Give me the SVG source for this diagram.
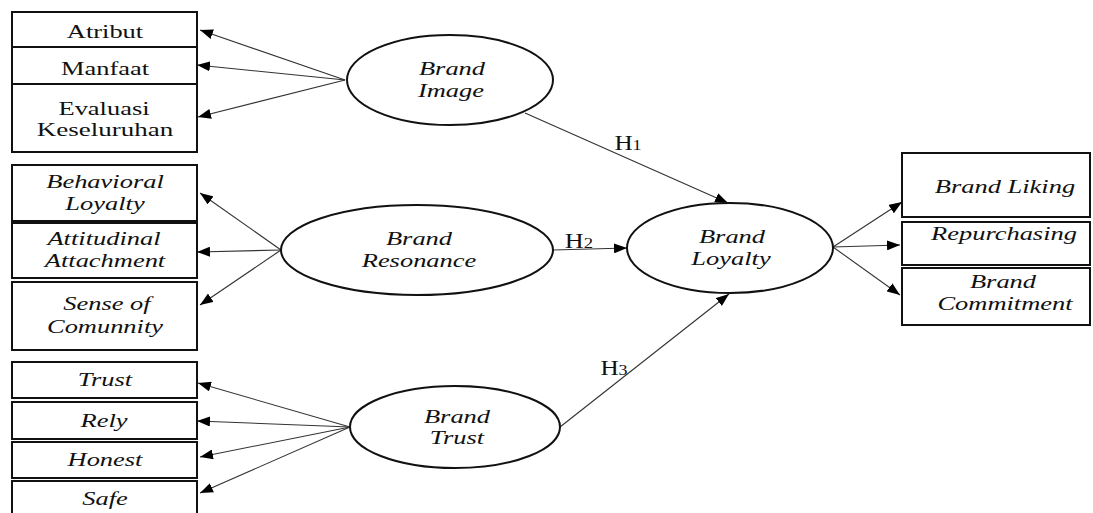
<svg xmlns="http://www.w3.org/2000/svg" width="1093" height="513" viewBox="0 0 1093 513">
<defs>
<marker id="ah" markerWidth="14" markerHeight="10" refX="13" refY="5" orient="auto" markerUnits="userSpaceOnUse">
<path d="M0,0 L13,5 L0,10 Z" fill="#000"/>
</marker>
<style>
.box{fill:#fff;stroke:#111;stroke-width:2}
.ell{fill:#fff;stroke:#111;stroke-width:2}
.t{font-family:"Liberation Serif","Times New Roman",serif;font-size:18px;fill:#111;text-anchor:middle}
.h{font-family:"Liberation Serif","Times New Roman",serif;font-size:21px;fill:#111;text-anchor:middle}
.i{font-style:italic}
.c line{stroke:#333;stroke-width:1.1;marker-end:url(#ah)}
</style>
</defs>
<rect width="1093" height="513" fill="#fff"/>

<g id="connectors" class="c">
<line x1="345" y1="80" x2="200" y2="30"/>
<line x1="345" y1="80" x2="197" y2="65"/>
<line x1="345" y1="80" x2="198" y2="117"/>
<line x1="281" y1="250" x2="200" y2="193"/>
<line x1="281" y1="250" x2="197" y2="252"/>
<line x1="281" y1="250" x2="200" y2="305"/>
<line x1="350" y1="427" x2="198" y2="383"/>
<line x1="350" y1="427" x2="197" y2="421"/>
<line x1="350" y1="427" x2="200" y2="457"/>
<line x1="350" y1="427" x2="200" y2="493"/>
<line x1="525" y1="113" x2="728" y2="203"/>
<line x1="553" y1="250" x2="627" y2="248"/>
<line x1="560" y1="427" x2="729" y2="294"/>
<line x1="833" y1="247" x2="902" y2="202"/>
<line x1="833" y1="247" x2="900" y2="245"/>
<line x1="833" y1="247" x2="900" y2="295"/>
<text class="h" transform="matrix(1.2 0 0 1 628 150)">H<tspan font-size="15">1</tspan></text>
<text class="h" transform="matrix(1.25 0 0 1 579 248)">H<tspan font-size="15">2</tspan></text>
<text class="h" transform="matrix(1.2 0 0 1 614 375)">H<tspan font-size="15">3</tspan></text>
</g>

<g id="atribut"><rect class="box" x="12" y="12" width="185" height="35"/><text class="t" transform="matrix(1.47 0 0 1 105 38)">Atribut</text></g>
<g id="manfaat"><rect class="box" x="12" y="47" width="185" height="37"/><text class="t" transform="matrix(1.47 0 0 1 105 75)">Manfaat</text></g>
<g id="evaluasi"><rect class="box" x="12" y="84" width="185" height="68"/><text class="t" transform="matrix(1.47 0 0 1 104 115)">Evaluasi</text><text class="t" transform="matrix(1.5 0 0 1 105 136)">Keseluruhan</text></g>

<g id="behavioral"><rect class="box" x="12" y="165" width="185" height="56"/><text class="t i" transform="matrix(1.47 0 0 1 105 188)">Behavioral</text><text class="t i" transform="matrix(1.47 0 0 1 105 210)">Loyalty</text></g>
<g id="attitudinal"><rect class="box" x="12" y="223" width="185" height="55"/><text class="t i" transform="matrix(1.47 0 0 1 104 245)">Attitudinal</text><text class="t i" transform="matrix(1.47 0 0 1 105 267)">Attachment</text></g>
<g id="sense"><rect class="box" x="12" y="282" width="185" height="68"/><text class="t i" transform="matrix(1.47 0 0 1 107 310)">Sense of</text><text class="t i" transform="matrix(1.47 0 0 1 105 333)">Comunnity</text></g>

<g id="trust"><rect class="box" x="12" y="362" width="185" height="36"/><text class="t i" transform="matrix(1.47 0 0 1 105 386)">Trust</text></g>
<g id="rely"><rect class="box" x="12" y="402" width="185" height="37"/><text class="t i" transform="matrix(1.47 0 0 1 104 427)">Rely</text></g>
<g id="honest"><rect class="box" x="12" y="442" width="185" height="36"/><text class="t i" transform="matrix(1.47 0 0 1 105 466)">Honest</text></g>
<g id="safe"><rect class="box" x="12" y="481" width="185" height="40"/><text class="t i" transform="matrix(1.47 0 0 1 105 505)">Safe</text></g>

<g id="brand-image"><ellipse class="ell" cx="450" cy="80" rx="103" ry="45"/><text class="t i" transform="matrix(1.47 0 0 1 452 75)">Brand</text><text class="t i" transform="matrix(1.47 0 0 1 451 97)">Image</text></g>
<g id="brand-resonance"><ellipse class="ell" cx="417" cy="250" rx="136" ry="45"/><text class="t i" transform="matrix(1.47 0 0 1 419 245)">Brand</text><text class="t i" transform="matrix(1.47 0 0 1 419 267)">Resonance</text></g>
<g id="brand-trust"><ellipse class="ell" cx="455" cy="427" rx="105" ry="41"/><text class="t i" transform="matrix(1.47 0 0 1 457 423)">Brand</text><text class="t i" transform="matrix(1.47 0 0 1 457 444)">Trust</text></g>
<g id="brand-loyalty"><ellipse class="ell" cx="730" cy="248" rx="103" ry="45"/><text class="t i" transform="matrix(1.47 0 0 1 732 243)">Brand</text><text class="t i" transform="matrix(1.47 0 0 1 731 265)">Loyalty</text></g>

<g id="brand-liking"><rect class="box" x="902" y="153" width="188" height="64"/><text class="t i" transform="matrix(1.47 0 0 1 1005 193)">Brand Liking</text></g>
<g id="repurchasing"><rect class="box" x="902" y="222" width="188" height="43"/><text class="t i" transform="matrix(1.47 0 0 1 1004 240)">Repurchasing</text></g>
<g id="brand-commitment"><rect class="box" x="902" y="268" width="188" height="57"/><text class="t i" transform="matrix(1.47 0 0 1 1003 288)">Brand</text><text class="t i" transform="matrix(1.47 0 0 1 1005 310)">Commitment</text></g>
</svg>
